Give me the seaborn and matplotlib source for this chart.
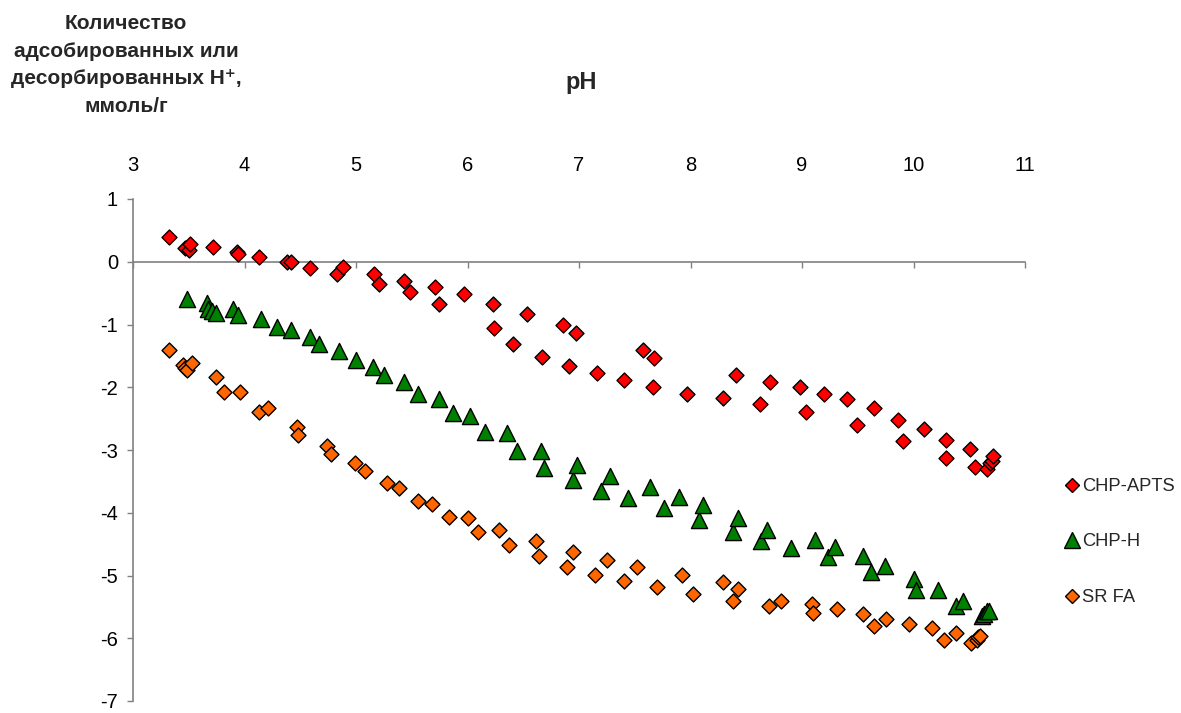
import matplotlib
matplotlib.use("Agg")
import matplotlib.pyplot as plt
from matplotlib.lines import Line2D
import seaborn as sns
import pandas as pd

# ---------------- data ----------------
apts_ph = [3.32, 3.47, 3.50, 3.51, 3.72, 3.93, 3.94, 4.13, 4.38, 4.42, 4.59, 4.83, 4.88,
           5.16, 5.21, 5.43, 5.48, 5.71, 5.74, 5.97, 6.23, 6.24, 6.41, 6.53, 6.67, 6.86,
           6.91, 6.97, 7.16, 7.40, 7.57, 7.66, 7.67, 7.97, 8.29, 8.41, 8.62, 8.71, 8.98,
           9.04, 9.20, 9.40, 9.49, 9.65, 9.86, 9.91, 10.09, 10.29, 10.29, 10.51, 10.55,
           10.66, 10.69, 10.70, 10.71]
apts_h = [0.40, 0.22, 0.18, 0.29, 0.23, 0.15, 0.12, 0.07, 0.00, 0.00, -0.10, -0.19, -0.08,
          -0.19, -0.35, -0.30, -0.49, -0.40, -0.68, -0.52, -0.68, -1.06, -1.31, -0.84, -1.51,
          -1.00, -1.66, -1.14, -1.78, -1.89, -1.40, -1.99, -1.53, -2.10, -2.17, -1.81, -2.27,
          -1.91, -1.99, -2.40, -2.10, -2.19, -2.60, -2.33, -2.52, -2.85, -2.66, -2.84, -3.12,
          -2.99, -3.27, -3.31, -3.21, -3.17, -3.09]

chph_ph = [3.48, 3.66, 3.67, 3.71, 3.74, 3.90, 3.94, 4.15, 4.29, 4.42, 4.59, 4.67, 4.85,
           5.00, 5.15, 5.25, 5.43, 5.56, 5.74, 5.87, 6.02, 6.16, 6.35, 6.44, 6.66, 6.69,
           6.95, 6.98, 7.20, 7.28, 7.44, 7.64, 7.76, 7.90, 8.08, 8.11, 8.38, 8.43, 8.63,
           8.69, 8.90, 9.12, 9.23, 9.30, 9.55, 9.62, 9.74, 10.00, 10.02, 10.22, 10.38,
           10.44, 10.61, 10.63, 10.66, 10.68]
chph_h = [-0.60, -0.65, -0.76, -0.79, -0.81, -0.76, -0.85, -0.92, -1.04, -1.09, -1.20, -1.31,
          -1.42, -1.56, -1.67, -1.81, -1.92, -2.10, -2.19, -2.41, -2.46, -2.72, -2.73, -3.01,
          -3.01, -3.28, -3.48, -3.24, -3.65, -3.42, -3.76, -3.59, -3.93, -3.75, -4.12, -3.87,
          -4.30, -4.09, -4.45, -4.27, -4.56, -4.44, -4.70, -4.54, -4.69, -4.94, -4.85, -5.05,
          -5.23, -5.23, -5.48, -5.40, -5.65, -5.61, -5.56, -5.56]

srfa_ph = [3.32, 3.45, 3.47, 3.48, 3.53, 3.74, 3.82, 3.96, 4.13, 4.21, 4.47, 4.48, 4.74,
           4.78, 4.99, 5.08, 5.28, 5.39, 5.56, 5.68, 5.83, 6.00, 6.09, 6.28, 6.37, 6.61,
           6.64, 6.89, 6.95, 7.14, 7.25, 7.40, 7.52, 7.70, 7.92, 8.02, 8.29, 8.38, 8.43,
           8.70, 8.81, 9.09, 9.10, 9.31, 9.55, 9.65, 9.75, 9.96, 10.17, 10.27, 10.38,
           10.52, 10.57, 10.58, 10.60]
srfa_h = [-1.40, -1.64, -1.69, -1.73, -1.61, -1.83, -2.08, -2.08, -2.39, -2.33, -2.64, -2.76,
          -2.94, -3.07, -3.21, -3.34, -3.53, -3.61, -3.81, -3.86, -4.07, -4.08, -4.30, -4.28,
          -4.52, -4.45, -4.69, -4.86, -4.63, -4.99, -4.75, -5.08, -4.86, -5.18, -4.99, -5.29,
          -5.11, -5.40, -5.21, -5.49, -5.40, -5.46, -5.59, -5.54, -5.62, -5.81, -5.70, -5.78,
          -5.84, -6.03, -5.92, -6.08, -6.03, -5.98, -5.97]

series_names = ["CHP-APTS", "CHP-H", "SR FA"]
x_ticks = [3, 4, 5, 6, 7, 8, 9, 10, 11]
y_ticks = [1, 0, -1, -2, -3, -4, -5, -6, -7]
title_text = "pH"
ylabel_text = "Количество\nадсобированных или\nдесорбированных H⁺,\nммоль/г"

# ---------------- style ----------------
sns.set_style("white")
plt.rcParams["font.family"] = ["Liberation Sans", "DejaVu Sans"]
plt.rcParams["axes.unicode_minus"] = False

colors = {"CHP-APTS": "#FF0000", "CHP-H": "#008000", "SR FA": "#FF6600"}
markers = {"CHP-APTS": "D", "CHP-H": "^", "SR FA": "D"}
sizes = {"CHP-APTS": 58, "CHP-H": 135, "SR FA": 58}

df = pd.concat([
    pd.DataFrame({"pH": apts_ph, "H": apts_h, "series": series_names[0]}),
    pd.DataFrame({"pH": chph_ph, "H": chph_h, "series": series_names[1]}),
    pd.DataFrame({"pH": srfa_ph, "H": srfa_h, "series": series_names[2]}),
], ignore_index=True)

fig = plt.figure(figsize=(11.81, 7.13), dpi=100)
ax = fig.add_axes([133 / 1181, 12 / 713, (1025 - 133) / 1181, (701 - 199) / 713])

for name in series_names:
    sub = df[df["series"] == name]
    sns.scatterplot(data=sub, x="pH", y="H", ax=ax, color=colors[name],
                    marker=markers[name], s=sizes[name], edgecolor="black",
                    linewidth=1.0, legend=False, zorder=3)

ax.set_xlim(3, 11)
ax.set_ylim(-7, 1)
ax.set_xticks(x_ticks)
ax.set_yticks(y_ticks)
ax.set_xlabel("")
ax.set_ylabel("")

spine_col = "#808080"
ax.spines["top"].set_visible(False)
ax.spines["right"].set_visible(False)
ax.spines["bottom"].set_position(("data", 0))
for sp in ("left", "bottom"):
    ax.spines[sp].set_color(spine_col)
    ax.spines[sp].set_linewidth(1.2)

ax.tick_params(axis="x", bottom=True, top=False, labelbottom=False, labeltop=True,
               direction="out", length=4.5, width=1.0, color=spine_col,
               labelsize=14.5, pad=13, labelcolor="black")
ax.tick_params(axis="y", left=True, right=False, direction="out", length=4.3,
               width=1.0, color=spine_col, labelsize=14.5, pad=6.5, labelcolor="black")
ax.grid(False)

fig.text(581 / 1181, 1 - 82 / 713, title_text, ha="center", va="center",
         fontsize=17, fontweight="bold")
fig.text(126 / 1181, 1 - 65 / 713, ylabel_text, ha="center", va="center",
         fontsize=15, fontweight="bold", linespacing=1.58)

handles = [
    Line2D([], [], linestyle="none", marker="D", markersize=7, markerfacecolor=colors["CHP-APTS"],
           markeredgecolor="black", markeredgewidth=1.0),
    Line2D([], [], linestyle="none", marker="^", markersize=11, markerfacecolor=colors["CHP-H"],
           markeredgecolor="black", markeredgewidth=1.0),
    Line2D([], [], linestyle="none", marker="D", markersize=7, markerfacecolor=colors["SR FA"],
           markeredgecolor="black", markeredgewidth=1.0),
]
ax.legend(handles, series_names, loc="center left",
          bbox_to_anchor=(1056 / 1181, 1 - 542 / 713), bbox_transform=fig.transFigure,
          frameon=False, fontsize=13.2, handlelength=0.7, handletextpad=0.2,
          labelspacing=2.1, borderpad=0)

fig.savefig("out.png", dpi=100)
